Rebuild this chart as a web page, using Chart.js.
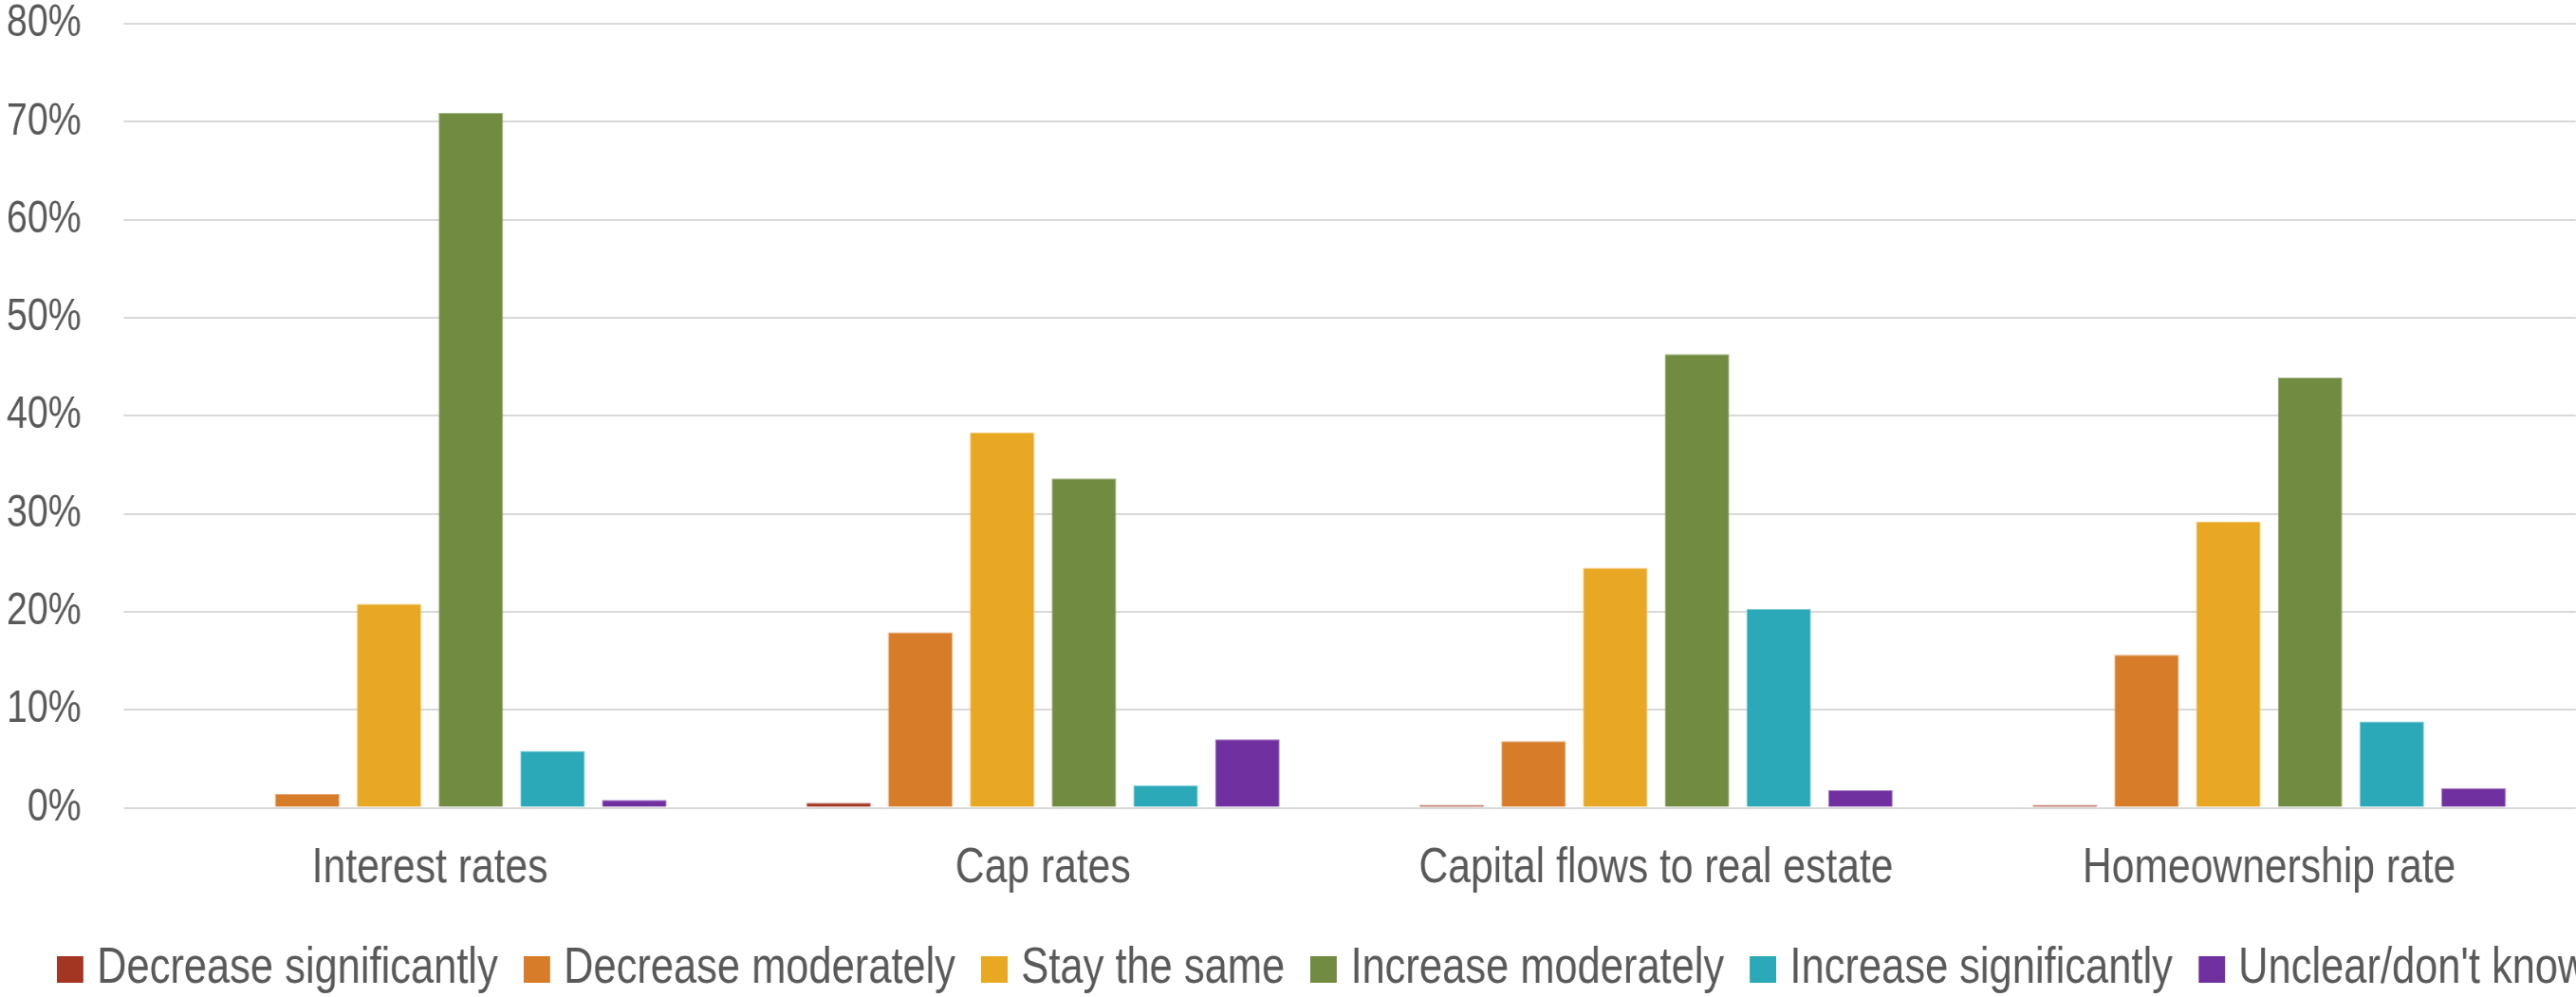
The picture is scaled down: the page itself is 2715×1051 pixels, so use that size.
<!DOCTYPE html>
<html>
<head>
<meta charset="utf-8">
<script src="https://cdn.jsdelivr.net/npm/chart.js@4/dist/chart.umd.min.js"></script>
<style>
  html, body { margin: 0; padding: 0; background: #ffffff; overflow: hidden; }
  #frame { width: 2715px; height: 1051px; overflow: hidden; position: relative; }
  /* the chart is drawn wide and squeezed horizontally for a narrow typeface */
  #chart { position: absolute; left: 0; top: 0; transform: scaleX(0.82); transform-origin: 0 0; }
</style>
</head>
<body>
<div id="frame"><canvas id="chart" width="3408" height="1058"></canvas></div>
<script>
// Survey outlook: expected change over the coming year
const categories = ['Interest rates', 'Cap rates', 'Capital flows to real estate', 'Homeownership rate'];
const seriesNames = ['Decrease significantly', 'Decrease moderately', 'Stay the same', 'Increase moderately', 'Increase significantly', "Unclear/don't know"];
const decreaseSignificantly = [0.0, 0.5, 0.3, 0.3];
const decreaseModerately    = [1.4, 17.9, 6.8, 15.6];
const stayTheSame           = [20.8, 38.3, 24.5, 29.2];
const increaseModerately    = [70.9, 33.6, 46.3, 43.9];
const increaseSignificantly = [5.8, 2.3, 20.3, 8.8];
const unclear               = [0.8, 7.0, 1.8, 2.0];
const yTicks = [0, 10, 20, 30, 40, 50, 60, 70, 80];

const seriesValues = [decreaseSignificantly, decreaseModerately, stayTheSame, increaseModerately, increaseSignificantly, unclear];
const colors = ['#A23623', '#D77C28', '#E9A823', '#718B40', '#2BA9B8', '#7030A0'];
const edgeColors = ['#C47B6F', '#E8A977', '#F3CB74', '#A3B686', '#80CCD5', '#A57FC4'];

const SQUEEZE = 0.82;
const FONT = "'Liberation Sans', Arial, sans-serif";
const TEXT = '#595959';

// square swatches for the legend (wider on the canvas, square after the squeeze)
const swatches = colors.map(c => {
  const cv = document.createElement('canvas');
  cv.width = Math.round(28 / SQUEEZE); cv.height = 28;
  const g = cv.getContext('2d');
  g.fillStyle = c;
  g.fillRect(0, 0, cv.width, cv.height);
  return cv;
});

const datasets = seriesNames.map((name, i) => ({
  label: name,
  data: seriesValues[i],
  backgroundColor: colors[i],
  borderColor: edgeColors[i],
  borderWidth: 1,
  categoryPercentage: 0.8,
  barPercentage: 0.79
}));

new Chart(document.getElementById('chart'), {
  type: 'bar',
  data: { labels: categories, datasets },
  options: {
    responsive: false,
    animation: false,
    layout: { padding: 0 },
    plugins: {
      tooltip: { enabled: false },
      legend: {
        position: 'bottom',
        labels: {
          font: { family: FONT, size: 53 },
          color: TEXT,
          usePointStyle: true,
          pointStyleWidth: 16,
          padding: 42,
          generateLabels(chart) {
            const items = Chart.defaults.plugins.legend.labels.generateLabels(chart);
            items.forEach((it, i) => { it.pointStyle = swatches[i]; });
            return items;
          }
        }
      }
    },
    scales: {
      x: {
        grid: { display: false },
        border: { display: false },
        ticks: { font: { family: FONT, size: 52 }, color: TEXT, padding: 25, maxRotation: 0 },
        afterFit(scale) { scale.height = 101.5; }
      },
      y: {
        min: 0,
        max: 80,
        afterBuildTicks(scale) { scale.ticks = yTicks.map(v => ({ value: v })); },
        grid: { color: '#D9D9D9', lineWidth: 2, drawTicks: false },
        border: { display: false },
        ticks: {
          font: { family: FONT, size: 48, lineHeight: 1 },
          color: TEXT,
          padding: 54,
          callback: v => v + '%'
        },
        afterFit(scale) {
          scale.width = 130 / SQUEEZE;
          scale.paddingTop = 25;
          scale.paddingBottom = 24;
        }
      },
      // empty strip to the right of the plot so the legend can run past it
      spacer: {
        type: 'linear',
        position: 'right',
        display: true,
        grid: { display: false },
        border: { display: false },
        ticks: { display: false },
        afterFit(scale) { scale.width = 70 / SQUEEZE + 12; }
      }
    }
  }
});
</script>
</body>
</html>
